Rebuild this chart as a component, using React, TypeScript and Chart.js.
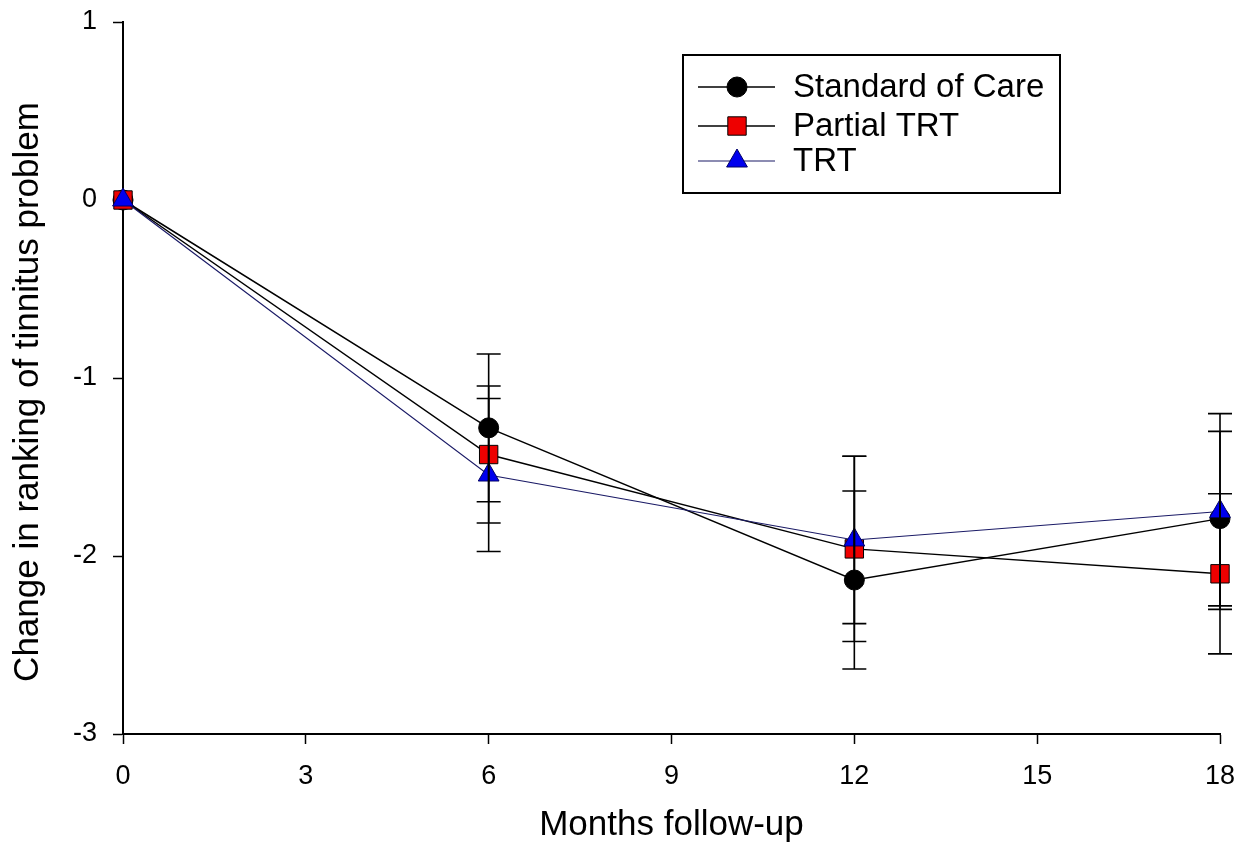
import React, { useEffect, useRef } from 'react';
import { Chart, registerables } from 'chart.js';

Chart.register(...registerables);

const FONT = "'Liberation Sans', Arial, Helvetica, sans-serif";

const months = [0, 6, 12, 18];
const seriesLabels = ['Standard of Care', 'Partial TRT', 'TRT'];
const socMean = [0, -1.28, -2.135, -1.79];
const socErr = [0, 0.415, 0.5, 0.49];
const partialMean = [0, -1.43, -1.96, -2.1];
const partialErr = [0, 0.385, 0.52, 0.45];
const trtMean = [0, -1.545, -1.91, -1.75];
const trtErr = [0, 0.43, 0.47, 0.55];
const xTicks = [0, 3, 6, 9, 12, 15, 18];
const yTicks = [-3, -2, -1, 0, 1];
const yTitle = 'Change in ranking of tinnitus problem';
const xTitle = 'Months follow-up';

const styles = [
  { line: '#000000', lineWidth: 1.5, fill: '#000000', border: '#000000', shape: 'circle', r: 10 },
  { line: '#000000', lineWidth: 1.5, fill: '#ee0000', border: '#000000', shape: 'rect', r: 13 },
  { line: '#1a1a66', lineWidth: 1.2, fill: '#0000ee', border: '#000066', shape: 'triangle', r: 12 },
];

function drawMarker(ctx: CanvasRenderingContext2D, shape: string, x: number, y: number, r: number, fill: string, border: string) {
  ctx.save();
  ctx.fillStyle = fill;
  ctx.strokeStyle = border;
  ctx.lineWidth = 1;
  ctx.beginPath();
  if (shape === 'circle') {
    ctx.arc(x, y, r, 0, Math.PI * 2);
  } else if (shape === 'rect') {
    const s = Math.SQRT1_2 * r;
    ctx.rect(x - s, y - s, 2 * s, 2 * s);
  } else {
    const a = 2.0944;
    ctx.moveTo(x, y - r);
    ctx.lineTo(x + Math.sin(a) * r, y - Math.cos(a) * r);
    ctx.lineTo(x + Math.sin(-a) * r, y - Math.cos(-a) * r);
    ctx.closePath();
  }
  ctx.fill();
  ctx.stroke();
  ctx.restore();
}

const errorBarPlugin = {
  id: 'errorBars',
  afterDatasetsDraw(chart: any) {
    const { ctx, scales } = chart;
    const xs = scales.x;
    const ys = scales.y;
    ctx.save();
    ctx.strokeStyle = '#000';
    ctx.lineWidth = 1.6;
    chart.data.datasets.forEach((ds: any) => {
      const errs: number[] = ds.errors || [];
      ds.data.forEach((pt: any, j: number) => {
        const e = errs[j];
        if (!e) return;
        const x = xs.getPixelForValue(pt.x);
        const yt = ys.getPixelForValue(pt.y + e);
        const yb = ys.getPixelForValue(pt.y - e);
        const cap = 12;
        ctx.beginPath();
        ctx.moveTo(x, yt);
        ctx.lineTo(x, yb);
        ctx.moveTo(x - cap, yt);
        ctx.lineTo(x + cap, yt);
        ctx.moveTo(x - cap, yb);
        ctx.lineTo(x + cap, yb);
        ctx.stroke();
      });
    });
    ctx.restore();
  },
};

const yTitlePlugin = {
  id: 'yTitle',
  afterDraw(chart: any) {
    const { ctx, chartArea } = chart;
    ctx.save();
    ctx.translate(28, (chartArea.top + chartArea.bottom) / 2 + 14);
    ctx.rotate(-Math.PI / 2);
    ctx.font = `35px ${FONT}`;
    ctx.fillStyle = '#000';
    ctx.textAlign = 'center';
    ctx.textBaseline = 'middle';
    ctx.fillText(yTitle, 0, 0);
    ctx.restore();
  },
};

const legendPlugin = {
  id: 'customLegend',
  afterDraw(chart: any) {
    const { ctx, chartArea } = chart;
    const left = chartArea.left + 560;
    const top = chartArea.top + 33;
    const w = 377;
    const h = 138;
    ctx.save();
    ctx.fillStyle = '#fff';
    ctx.fillRect(left, top, w, h);
    ctx.strokeStyle = '#000';
    ctx.lineWidth = 2;
    ctx.strokeRect(left, top, w, h);
    const rows = [32, 71, 106];
    ctx.font = `33px ${FONT}`;
    ctx.textBaseline = 'middle';
    ctx.textAlign = 'left';
    seriesLabels.forEach((label, i) => {
      const st = styles[i];
      const y = top + rows[i];
      ctx.strokeStyle = st.line;
      ctx.lineWidth = st.lineWidth;
      ctx.beginPath();
      ctx.moveTo(left + 15, y);
      ctx.lineTo(left + 92, y);
      ctx.stroke();
      drawMarker(ctx, st.shape, left + 54, y, st.r, st.fill, st.border);
      ctx.fillStyle = '#000';
      ctx.fillText(label, left + 110, y + 1);
    });
    ctx.restore();
  },
};

export default function App() {
  const ref = useRef<HTMLCanvasElement | null>(null);

  useEffect(() => {
    document.body.style.margin = '0';
    const canvas = ref.current;
    if (!canvas) return;
    const means = [socMean, partialMean, trtMean];
    const errs = [socErr, partialErr, trtErr];
    const datasets = seriesLabels.map((label, i) => ({
      label,
      data: months.map((m, j) => ({ x: m, y: means[i][j] })),
      errors: errs[i],
      borderColor: styles[i].line,
      borderWidth: styles[i].lineWidth,
      backgroundColor: styles[i].fill,
      pointBackgroundColor: styles[i].fill,
      pointBorderColor: styles[i].border,
      pointBorderWidth: 1,
      pointStyle: styles[i].shape,
      pointRadius: styles[i].r,
      pointHoverRadius: styles[i].r,
      tension: 0,
      fill: false,
      clip: false,
      order: 2 - i,
    }));

    const chart = new Chart(canvas, {
      type: 'line',
      data: { datasets } as any,
      options: {
        animation: false,
        responsive: true,
        maintainAspectRatio: false,
        events: [],
        layout: { padding: { left: 0, top: 22, right: 23, bottom: 0 } },
        plugins: {
          legend: { display: false },
          tooltip: { enabled: false },
        },
        scales: {
          x: {
            type: 'linear',
            min: 0,
            max: 18,
            afterBuildTicks: (axis: any) => {
              axis.ticks = xTicks.map((v) => ({ value: v }));
            },
            afterFit: (axis: any) => {
              axis.height = 112;
              axis.paddingLeft = 0;
              axis.paddingRight = 0;
            },
            ticks: {
              font: { size: 27, family: FONT },
              color: '#000',
              padding: 16,
              maxRotation: 0,
              autoSkip: false,
            },
            grid: {
              drawOnChartArea: false,
              drawTicks: true,
              tickLength: 10,
              tickColor: '#000',
              tickWidth: 1.5,
            },
            border: { display: true, color: '#000', width: 2 },
            title: {
              display: true,
              text: xTitle,
              font: { size: 35, family: FONT },
              color: '#000',
              padding: { top: 0, bottom: 0 },
            },
          },
          y: {
            type: 'linear',
            min: -3,
            max: 1,
            afterBuildTicks: (axis: any) => {
              axis.ticks = yTicks.map((v) => ({ value: v }));
            },
            afterFit: (axis: any) => {
              axis.width = 123;
              axis.paddingTop = 0;
              axis.paddingBottom = 0;
            },
            ticks: {
              font: { size: 27, family: FONT },
              color: '#000',
              padding: 16,
              autoSkip: false,
            },
            grid: {
              drawOnChartArea: false,
              drawTicks: true,
              tickLength: 10,
              tickColor: '#000',
              tickWidth: 1.5,
            },
            border: { display: true, color: '#000', width: 2 },
            title: { display: false },
          },
        },
      } as any,
      plugins: [errorBarPlugin, legendPlugin, yTitlePlugin],
    });
    return () => chart.destroy();
  }, []);

  return (
    <div style={{ position: 'absolute', left: 0, top: 0, width: 1243, height: 846, background: '#fff' }}>
      <canvas ref={ref} />
    </div>
  );
}
